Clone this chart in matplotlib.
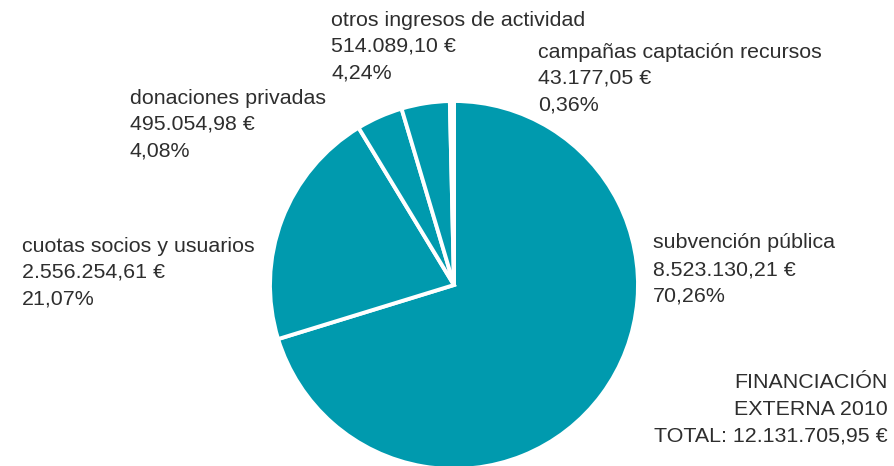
import matplotlib.pyplot as plt

# datos
categorias = ['subvención pública', 'cuotas socios y usuarios', 'donaciones privadas',
              'otros ingresos de actividad', 'campañas captación recursos']
importes = ['8.523.130,21 €', '2.556.254,61 €', '495.054,98 €', '514.089,10 €', '43.177,05 €']
porcentajes = [70.26, 21.07, 4.08, 4.24, 0.36]
colores = ['#009aae', '#009aae', '#009aae', '#009aae', '#ffffff']
total_lineas = ['FINANCIACIÓN', 'EXTERNA 2010', 'TOTAL: 12.131.705,95 €']

W, H = 894, 466
fig = plt.figure(figsize=(W / 100, H / 100), dpi=100)
ax = fig.add_axes([0, 0, 1, 1])

ax.pie(porcentajes, colors=colores, startangle=90, counterclock=False,
       center=(454, H - 285), radius=184, frame=True,
       wedgeprops=dict(edgecolor='white', linewidth=2.8))
ax.set_xlim(0, W)
ax.set_ylim(0, H)
ax.axis('off')

txt = dict(fontsize=15.4, color='#2e2e2e', family='Liberation Sans', va='center')

# posiciones de etiquetas (x, y de la primera línea en píxeles)
pos = [(653, 243), (22, 246), (130, 98), (331, 20), (538, 52)]
for cat, imp, pct, (x, y) in zip(categorias, importes, porcentajes, pos):
    lineas = [cat, imp, f'{pct:.2f}%'.replace('.', ',')]
    for i, l in enumerate(lineas):
        ax.text(x, H - (y + i * 26.5), l, ha='left', **txt)

for i, l in enumerate(total_lineas):
    ax.text(888, H - (383 + i * 26.5), l, ha='right', **txt)

fig.savefig('out.png', dpi=100)
